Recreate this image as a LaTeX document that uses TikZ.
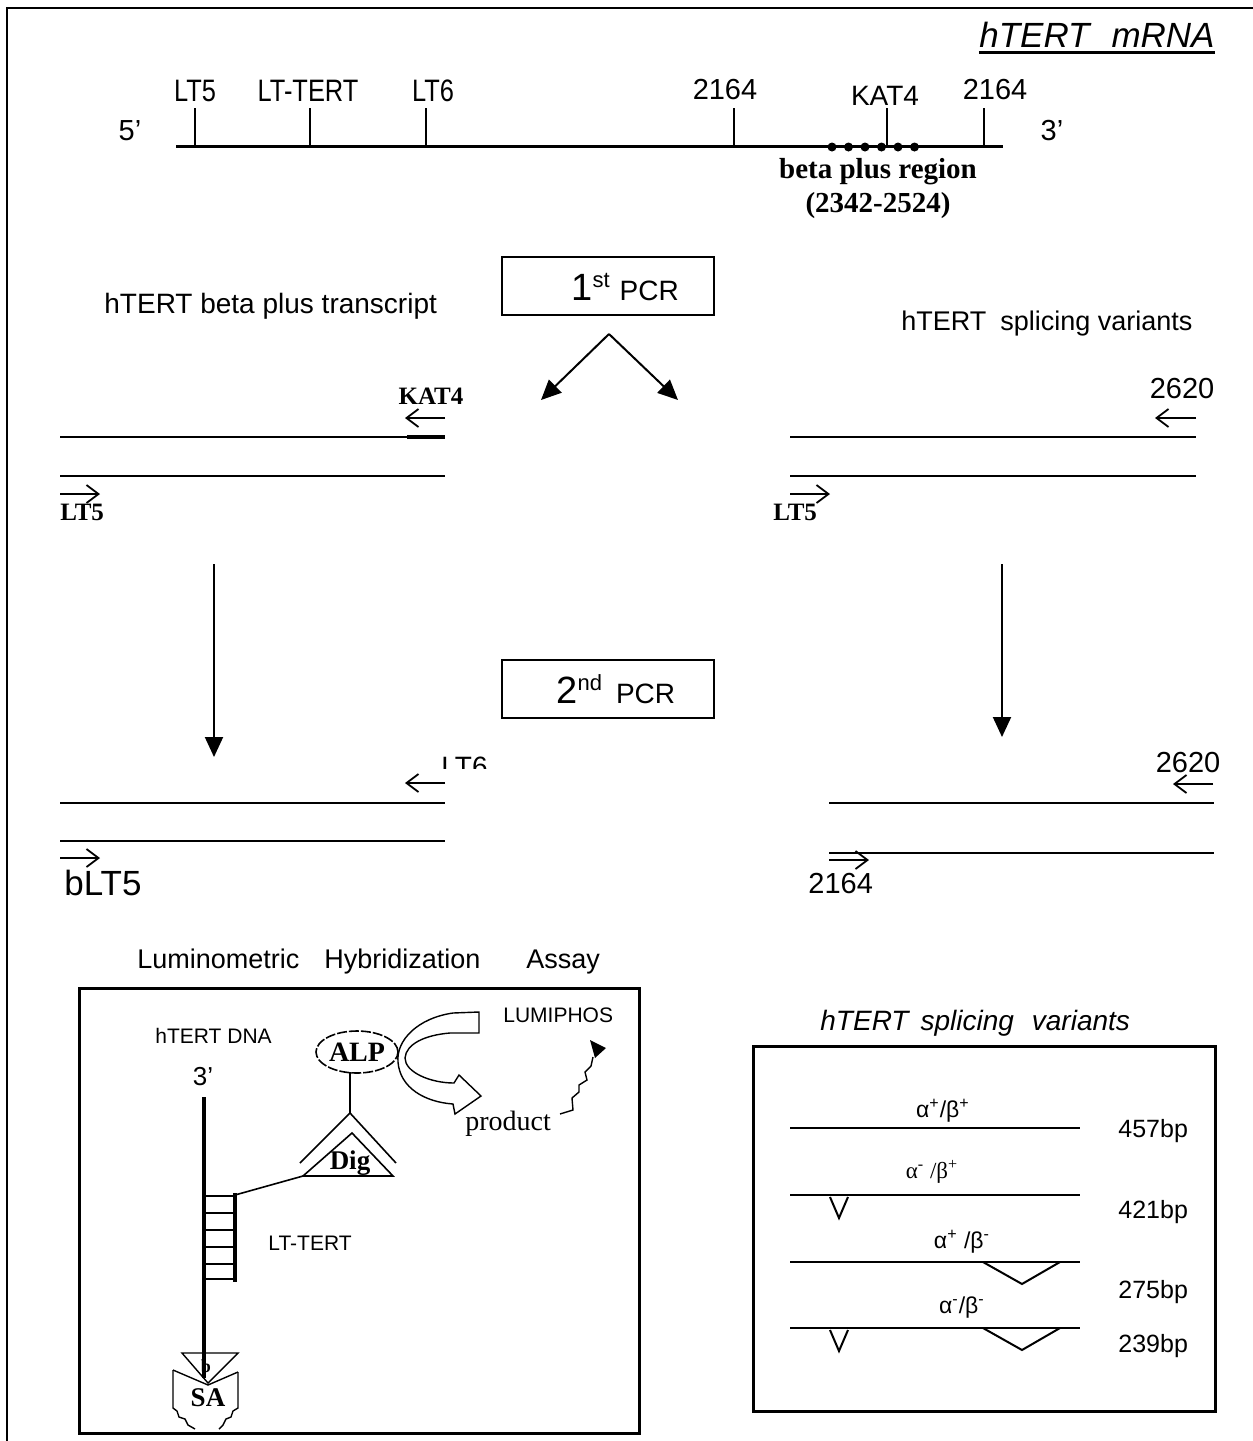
\documentclass[tikz,border=0pt]{standalone}
\usepackage{fontspec}
\setmainfont{Liberation Sans}
\newfontfamily\tnr{Liberation Serif}
\newfontfamily\condf[FakeStretch=0.82]{Liberation Sans}
\usetikzlibrary{arrows.meta,shapes.geometric}
\newcommand\fsz[1]{\fontsize{#1pt}{#1pt}\selectfont}
\begin{document}
\begin{tikzpicture}[x=0.5pt,y=-0.5pt,
  ln/.style={line width=1pt},
  thinln/.style={line width=0.7pt},
  thickln/.style={line width=1.5pt},
  prim/.style={line width=0.9pt,-{Straight Barb[length=6pt,width=9pt]}},
  bigarr/.style={line width=1pt,-{Triangle[length=10pt,width=9pt]}},
  lbl/.style={inner sep=0pt},
  pcrbox/.style={draw,line width=1pt,minimum width=106pt,minimum height=29pt,inner sep=0pt},
]
\useasboundingbox (0,0) rectangle (1253,1441);
% outer frame
\coordinate (f0) at (7,1441); \coordinate (f1) at (7,8); \coordinate (f2) at (1253,8);
\draw[ln] (f0) -- (f1) -- (f2);

% ---------- mRNA ----------
\node[lbl,anchor=base east] (title) at (1215,47) {\fsz{17.5}\itshape hTERT\hspace{11pt}mRNA};
\draw[thickln] ([yshift=-2.5pt]title.base west) -- ([yshift=-2.5pt]title.base east);
\coordinate (m0) at (176,146); \coordinate (m1) at (1003,146);
\draw[thickln] (m0) -- (m1);
\foreach \x in {195,310,426,734,887,984} \draw[line width=0.8pt] (\x,108) -- (\x,146);
\node[lbl,anchor=base] (tlt5) at (195,101) {\fsz{15.5}\condf LT5};
\node[lbl,anchor=base] (tltt) at (308,101) {\fsz{15.5}\condf LT-TERT};
\node[lbl,anchor=base] (tlt6) at (433,101) {\fsz{15.5}\condf LT6};
\node[lbl,anchor=base] (t2164a) at (725,99) {\fsz{14.5}2164};
\node[lbl,anchor=base] (tkat) at (885,105) {\fsz{14}KAT4};
\node[lbl,anchor=base] (t2164b) at (995,99) {\fsz{14.5}2164};
\node[lbl,anchor=base] (t5p) at (130,140) {\fsz{14.5}5’};
\node[lbl,anchor=base] (t3p) at (1052,140) {\fsz{14.5}3’};
\foreach \i in {0,...,5} \fill (832+16.5*\i,147) circle (4.5);
\node[lbl,anchor=base] (bpr) at (878,178) {\fsz{14.5}\tnr\bfseries beta plus region};
\node[lbl,anchor=base] (bprn) at (878,212) {\fsz{14.5}\tnr\bfseries (2342-2524)};

% ---------- 1st PCR ----------
\node[pcrbox] (pcr1) at (608,286) {};
\node[lbl,anchor=base west] (pcr1t) at (571,300) {\fsz{19}1\raisebox{6.5pt}{\fsz{11}st}\hspace{5pt}\fsz{14}PCR};
\coordinate (apex) at (609,334);
\coordinate (al) at (541,400); \coordinate (ar) at (678,400);
\draw[bigarr] (apex) -- (al);
\draw[bigarr] (apex) -- (ar);
\node[lbl,anchor=base west] (lhead) at (104,313) {\fsz{14}hTERT beta plus transcript};
\node[lbl,anchor=base west] (rhead) at (901,330) {\fsz{13.5}hTERT\hspace{7pt}splicing variants};

% left strands (1st)
\draw[ln] (60,437) -- (445,437);
\draw[line width=2pt] (407,437) -- (445,437);
\draw[ln] (60,476) -- (445,476);
\draw[prim] (445,418) -- (405,418);
\node[lbl,anchor=base] (kat4) at (431,404) {\fsz{12.5}\tnr\bfseries KAT4};
\draw[prim] (60,494) -- (100,494);
\node[lbl,anchor=base west] (lt5a) at (60,520) {\fsz{12.5}\tnr\bfseries LT5};
% right strands (1st)
\draw[ln] (790,437) -- (1196,437);
\draw[ln] (790,476) -- (1196,476);
\draw[prim] (1196,418) -- (1155,418);
\node[lbl,anchor=base] (r2620a) at (1182,398) {\fsz{14.5}2620};
\draw[prim] (790,494) -- (830,494);
\node[lbl,anchor=base west] (lt5b) at (773,520) {\fsz{12.5}\tnr\bfseries LT5};

% down arrows
\coordinate (dl0) at (214,564); \coordinate (dl1) at (214,757);
\coordinate (dr0) at (1002,564); \coordinate (dr1) at (1002,737);
\draw[bigarr] (dl0) -- (dl1);
\draw[bigarr] (dr0) -- (dr1);

% ---------- 2nd PCR ----------
\node[pcrbox] (pcr2) at (608,689) {};
\node[lbl,anchor=base west] (pcr2t) at (556,703) {\fsz{19}2\raisebox{6.5pt}{\fsz{11}nd}\hspace{7pt}\fsz{14}PCR};

% left strands (2nd)
\begin{scope}
\clip (430,740) rectangle (510,768);
\node[lbl,anchor=base west] (lt6c) at (441,776) {\fsz{14}LT6};
\end{scope}
\draw[prim] (445,783) -- (405,783);
\draw[ln] (60,803) -- (445,803);
\draw[ln] (60,841) -- (445,841);
\draw[prim] (60,858) -- (100,858);
\node[lbl,anchor=base west] (blt5) at (64,895) {\fsz{17.5}bLT5};
% right strands (2nd)
\node[lbl,anchor=base] (r2620b) at (1188,772) {\fsz{14.5}2620};
\draw[prim] (1213,784) -- (1173,784);
\draw[ln] (829,803) -- (1214,803);
\draw[ln] (829,853) -- (1214,853);
\draw[prim] (829,860) -- (869,860);
\node[lbl,anchor=base west] (r2164) at (808,893) {\fsz{14.5}2164};

% ---------- Luminometric assay ----------
\node[lbl,anchor=base west] (lum1) at (137,968) {\fsz{13.5}Luminometric};
\node[lbl,anchor=base west] (lum2) at (324,968) {\fsz{13.5}Hybridization};
\node[lbl,anchor=base west] (lum3) at (526,968) {\fsz{13.5}Assay};
\node[draw,thickln,anchor=north west,minimum width=280pt,minimum height=222.5pt,inner sep=0pt] (lbox) at (78,987) {};
\node[lbl,anchor=base west] (hdna) at (155,1043) {\fsz{10.5}hTERT DNA};
\node[lbl,anchor=base] (d3p) at (203,1085) {\fsz{13}3’};
\draw[line width=2pt] (204,1097) -- (204,1378);
\draw[line width=2pt] (235,1193) -- (235,1282);
\foreach \y in {1196,1213,1230,1247,1264,1279} \draw[line width=0.8pt] (204,\y) -- (235,\y);
\node[lbl,anchor=base west] (ltt) at (268,1250) {\fsz{10.5}LT-TERT};
\draw[line width=0.8pt] (235,1195) -- (303,1176);
\draw[line width=0.8pt] (303,1176) -- (352,1133) -- (393,1176) -- cycle;
\node[lbl,anchor=base] (dig) at (350,1169) {\fsz{13.5}\tnr\bfseries Dig};
\draw[line width=0.8pt] (300,1163) -- (350,1113) -- (396,1163);
\draw[line width=0.8pt] (350,1113) -- (350,1072);
\node[draw,ellipse,line width=0.8pt,dash pattern=on 5pt off 1pt,minimum width=41pt,minimum height=21pt,inner sep=0pt] (alp) at (357,1052) {\fsz{14}\tnr\bfseries ALP};
% hollow curved arrow
\draw[thinln] (479,1012) -- (453,1013) .. controls (418,1018) and (396,1040) .. (398,1062)
  .. controls (400,1088) and (425,1102) .. (453,1104) -- (455,1114) -- (481,1096) -- (459,1075) -- (454,1083)
  .. controls (430,1083) and (405,1072) .. (405,1058) .. controls (406,1044) and (425,1035) .. (450,1033) -- (479,1033) -- cycle;
\node[lbl,anchor=base west] (lumi) at (503,1022) {\fsz{10.5}LUMIPHOS};
\node[lbl,anchor=base west] (prod) at (465,1130) {\fsz{14}\tnr product};
\draw[thinln] (560,1114) -- (573,1110) -- (572,1098) -- (579,1092) -- (579,1085) -- (587,1080) -- (585,1072) -- (591,1066) -- (593,1057);
\fill (590,1040) -- (606,1048) -- (595,1058) -- cycle;
% SA shield
\draw[thinln] (182,1353) -- (238,1353) -- (208,1383) -- cycle;
\node[lbl,anchor=base] (bb) at (206,1372) {\fsz{9}\tnr\bfseries b};
\draw[thinln] (173,1370) -- (173,1408) -- (177,1411) -- (179,1417) -- (185,1419) -- (188,1425) -- (195,1429);
\draw[thinln] (238,1372) -- (238,1408) -- (233,1411) -- (231,1417) -- (226,1419) -- (223,1425) -- (219,1429);
\draw[thinln] (173,1370) -- (208,1385) -- (238,1372);
\node[lbl,anchor=base] (sa) at (208,1406) {\fsz{13.5}\tnr\bfseries SA};

% ---------- splicing variants ----------
\node[lbl,anchor=base west] (svt) at (820,1030) {\fsz{14}\itshape hTERT\hspace{6pt}splicing\hspace{9pt}variants};
\node[draw,thickln,anchor=north west,minimum width=231pt,minimum height=182.5pt,inner sep=0pt] (rbox) at (752,1045) {};
\draw[ln] (790,1128) -- (1080,1128);
\draw[ln] (790,1195) -- (1080,1195);
\draw[ln] (830,1197) -- (839,1218) -- (848,1197);
\draw[ln] (790,1262) -- (1080,1262);
\draw[ln] (983,1262) -- (1022,1284) -- (1060,1262);
\draw[ln] (790,1328) -- (1080,1328);
\draw[ln] (830,1330) -- (839,1351) -- (848,1330);
\draw[ln] (983,1328) -- (1022,1350) -- (1060,1328);
\node[lbl,anchor=base] (v1) at (943,1117) {\fsz{11.5}α\textsuperscript{+}/β\textsuperscript{+}};
\node[lbl,anchor=base] (v2) at (932,1178) {\fsz{11.5}\tnr α\textsuperscript{-} /β\textsuperscript{+}};
\node[lbl,anchor=base] (v3) at (962,1248) {\fsz{11.5}α\textsuperscript{+} /β\textsuperscript{-}};
\node[lbl,anchor=base] (v4) at (962,1313) {\fsz{11.5}α\textsuperscript{-}/β\textsuperscript{-}};
\node[lbl,anchor=base west] (bp1) at (1118,1137) {\fsz{12.5}457bp};
\node[lbl,anchor=base west] (bp2) at (1118,1218) {\fsz{12.5}421bp};
\node[lbl,anchor=base west] (bp3) at (1118,1298) {\fsz{12.5}275bp};
\node[lbl,anchor=base west] (bp4) at (1118,1352) {\fsz{12.5}239bp};
\end{tikzpicture}
\end{document}
